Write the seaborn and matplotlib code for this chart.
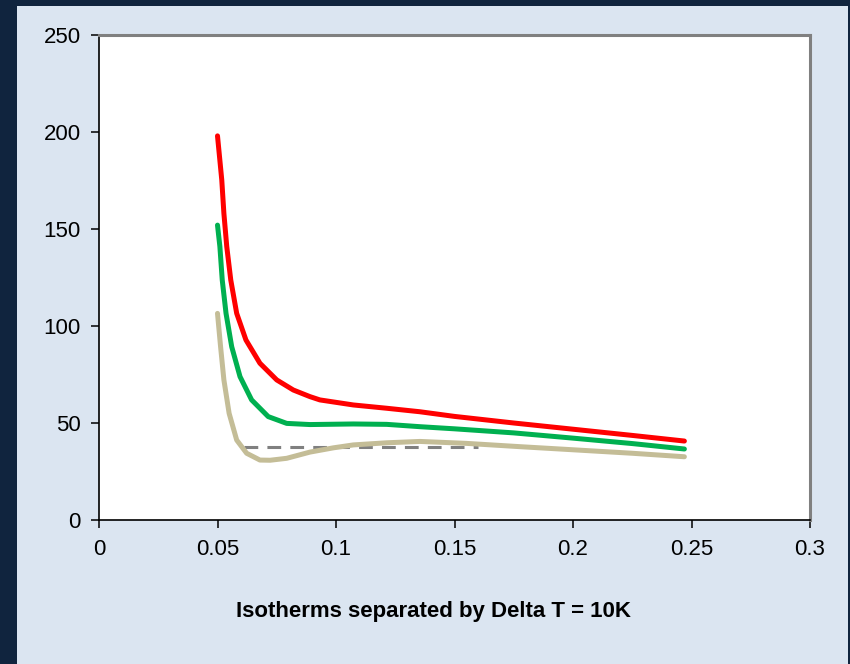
import matplotlib
matplotlib.use("Agg")
import matplotlib.pyplot as plt
import seaborn as sns
import pandas as pd
from matplotlib.patches import Rectangle

# ---- data ----
red_x = [0.050, 0.0518, 0.0527, 0.0539, 0.0556, 0.0581, 0.062, 0.0679, 0.075, 0.082,
         0.089, 0.0932, 0.1073, 0.1214, 0.1354, 0.150, 0.175, 0.200, 0.225, 0.247]
red_y = [198, 175.3, 158, 141, 123.7, 106.5, 92.8, 80.8, 72.2, 67,
         63.6, 61.9, 59.3, 57.6, 55.8, 53.4, 50.0, 46.8, 43.6, 40.7]

green_x = [0.050, 0.051, 0.052, 0.0536, 0.056, 0.0595, 0.0644, 0.0714, 0.0792, 0.089,
           0.1073, 0.1214, 0.1354, 0.150, 0.175, 0.200, 0.225, 0.247]
green_y = [152, 141, 123.7, 106.5, 89.3, 73.9, 61.9, 53.3, 49.8, 49.2,
           49.5, 49.3, 48.1, 47.0, 44.9, 42.2, 39.4, 36.6]

tan_x = [0.050, 0.0513, 0.0527, 0.0549, 0.0581, 0.0623, 0.0679, 0.0722, 0.0792, 0.089,
         0.0989, 0.1073, 0.1214, 0.1354, 0.155, 0.1776, 0.200, 0.225, 0.247]
tan_y = [106.5, 89.3, 72.2, 55, 41.2, 34.4, 30.9, 30.8, 31.8, 35,
         37.2, 38.7, 39.8, 40.5, 39.5, 37.8, 36.2, 34.4, 32.6]

dash_x = [0.061, 0.160]
dash_y = [37.8, 37.8]

x_ticks = [0, 0.05, 0.1, 0.15, 0.2, 0.25, 0.3]
x_tick_labels = ["0", "0.05", "0.1", "0.15", "0.2", "0.25", "0.3"]
y_ticks = [0, 50, 100, 150, 200, 250]
y_tick_labels = ["0", "50", "100", "150", "200", "250"]
title_text = "Isotherms separated by Delta T = 10K"

# ---- styling ----
sns.set_theme(style="white")
plt.rcParams['font.family'] = ['Liberation Sans', 'DejaVu Sans']

W, H = 850, 664
fig = plt.figure(figsize=(W / 100, H / 100), dpi=100)
fig.patch.set_facecolor('#10243E')
fig.patches.append(Rectangle((17 / W, 0), (848 - 17) / W, (H - 6) / H,
                             transform=fig.transFigure, facecolor='#DBE5F1',
                             edgecolor='none', zorder=-10))

ax = fig.add_axes([99 / W, (H - 520) / H, (810 - 99) / W, (520 - 35) / H])
ax.set_zorder(1)
ax.set_facecolor('white')

df_red = pd.DataFrame({"x": red_x, "y": red_y})
df_green = pd.DataFrame({"x": green_x, "y": green_y})
df_tan = pd.DataFrame({"x": tan_x, "y": tan_y})
df_dash = pd.DataFrame({"x": dash_x, "y": dash_y})

line_kw = dict(linewidth=3.6, solid_capstyle='round', solid_joinstyle='round', sort=False)
sns.lineplot(data=df_dash, x="x", y="y", ax=ax, color='#808080', linewidth=2.2,
             linestyle=(0, (4.5, 3)), sort=False, zorder=2)
sns.lineplot(data=df_tan, x="x", y="y", ax=ax, color='#C4BD97', zorder=3, **line_kw)
sns.lineplot(data=df_green, x="x", y="y", ax=ax, color='#00B050', zorder=4, **line_kw)
sns.lineplot(data=df_red, x="x", y="y", ax=ax, color='#FF0000', zorder=5, **line_kw)

ax.set_xlim(0, 0.3)
ax.set_ylim(0, 250)
ax.set_xticks(x_ticks)
ax.set_xticklabels(x_tick_labels)
ax.set_yticks(y_ticks)
ax.set_yticklabels(y_tick_labels)
ax.set_xlabel("")
ax.set_ylabel("")

for side in ['top', 'right']:
    ax.spines[side].set_color('#808080')
    ax.spines[side].set_linewidth(2.2)
for side in ['left', 'bottom']:
    ax.spines[side].set_color('black')
    ax.spines[side].set_linewidth(1.2)
for s in ax.spines.values():
    s.set_visible(True)

ax.tick_params(axis='both', which='major', direction='out', length=6, width=1.1,
               color='black', labelsize=16, labelcolor='black')
ax.tick_params(axis='x', pad=8, bottom=True)
ax.tick_params(axis='y', pad=7, left=True)

fig.text(434 / W, 1 - 612 / H, title_text, ha='center', va='center',
         fontsize=16, fontweight='bold', color='black')

fig.savefig("out.png", dpi=100, facecolor=fig.get_facecolor())
